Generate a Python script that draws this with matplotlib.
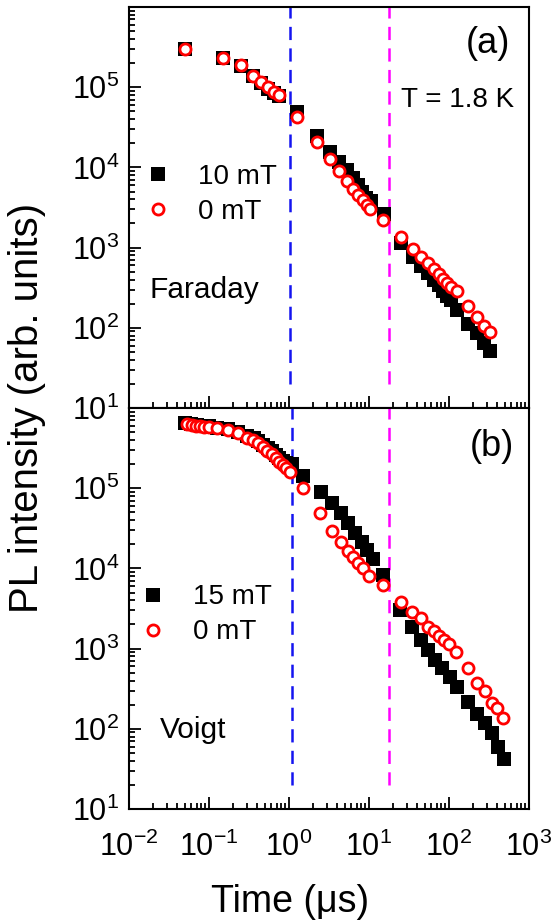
import matplotlib
matplotlib.use("Agg")
import matplotlib.pyplot as plt
from matplotlib.ticker import FixedLocator, FuncFormatter, LogLocator, NullFormatter
import numpy as np

plt.rcParams['font.family'] = ['Liberation Sans', 'DejaVu Sans']
plt.rcParams['mathtext.fontset'] = 'custom'
plt.rcParams['mathtext.rm'] = 'Liberation Sans'
plt.rcParams['mathtext.it'] = 'Liberation Sans:italic'
plt.rcParams['lines.scale_dashes'] = False

# ---------------- data: panel (a) Faraday ----------------
a_sq_t = [0.05, 0.15, 0.25, 0.35, 0.45, 0.55, 0.65, 0.75, 1.25,
          2.25, 3.25, 4.25, 5.25, 6.25, 7.25, 8.25, 9.25, 10.5, 15.5,
          25, 35, 45, 55, 65, 75, 85, 95, 105, 125, 175, 225, 275, 325]
a_sq_I = [2.99e5, 2.29e5, 1.85e5, 1.37e5, 1.13e5, 9.6e4, 8.4e4, 7.7e4, 4.9e4,
          2.45e4, 1.56e4, 1.17e4, 9.3e3, 7.4e3, 6.0e3, 4.9e3, 4.2e3, 3.8e3, 2.63e3,
          1130, 760, 590, 480, 400, 340, 290, 250, 220, 165, 110, 85, 65, 52]
a_ci_t = [0.05, 0.15, 0.25, 0.35, 0.45, 0.55, 0.65, 0.75, 1.25,
          2.25, 3.25, 4.25, 5.25, 6.25, 7.35, 8.5, 9.5, 10.3, 14.8,
          25, 35, 45, 55, 65, 75, 85, 95, 105, 125, 175, 225, 275, 325]
a_ci_I = [2.99e5, 2.29e5, 1.89e5, 1.39e5, 1.17e5, 1.0e5, 8.7e4, 7.9e4, 4.3e4,
          2.09e4, 1.26e4, 9.0e3, 6.8e3, 5.33e3, 4.53e3, 3.92e3, 3.40e3, 3.0e3, 2.21e3,
          1340, 953, 757, 649, 537, 469, 403, 359, 326, 290, 189, 138, 105, 88]

# ---------------- data: panel (b) Voigt ----------------
b_sq_t = [0.05, 0.06, 0.07, 0.08, 0.09, 0.1, 0.125, 0.175, 0.23, 0.3, 0.36, 0.41,
          0.48, 0.54, 0.61, 0.68, 0.76, 0.84, 0.92, 1.08,
          1.48, 2.51, 3.48, 4.47, 5.51, 6.68, 8.11, 9.52, 11.3, 15.1,
          24.4, 34.2, 44.3, 55.1, 66.8, 81.1, 103, 127, 174, 222, 282, 342, 413, 487]
b_sq_I = [6.45e5, 6.3e5, 6.15e5, 6.05e5, 5.95e5, 5.9e5, 5.7e5, 5.45e5, 5.0e5, 4.5e5, 4.2e5, 3.85e5,
          3.5e5, 3.15e5, 2.9e5, 2.6e5, 2.38e5, 2.2e5, 2.05e5, 2.0e5,
          1.42e5, 9.0e4, 6.5e4, 4.87e4, 3.65e4, 2.79e4, 2.15e4, 1.69e4, 1.30e4, 8.3e3,
          3030, 1870, 1280, 961, 721, 568, 446, 329, 218, 153, 117, 88, 60, 41.7]
b_ci_t = [0.0535, 0.0608, 0.0688, 0.0772, 0.0873, 0.101, 0.125, 0.174, 0.232, 0.296,
          0.358, 0.413, 0.477, 0.535, 0.608, 0.682, 0.756, 0.834, 0.917, 1.03,
          1.48, 2.44, 3.48, 4.47, 5.51, 6.37, 7.35, 8.49, 10.1, 14.8,
          24.9, 34.8, 44.3, 55.1, 64.9, 75.6, 86.6, 101, 122, 174, 222, 282, 342, 402, 469]
b_ci_I = [6.27e5, 6.14e5, 6.02e5, 5.96e5, 5.85e5, 5.80e5, 5.58e5, 5.32e5, 4.83e5, 4.26e5,
          3.99e5, 3.63e5, 3.29e5, 2.91e5, 2.65e5, 2.36e5, 2.14e5, 1.95e5, 1.77e5, 1.61e5,
          9.97e4, 4.86e4, 2.93e4, 2.15e4, 1.65e4, 1.37e4, 1.18e4, 1.0e4, 8.04e3, 6.21e3,
          3850, 2840, 2390, 1870, 1660, 1440, 1280, 1130, 915, 568, 376, 296, 208, 180, 137]

# vertical guide lines (time, μs)
vline_t_a = [1.03, 18.0]
vline_t_b = [1.09, 18.0]
vline_colors = ['#1414f0', '#ff00ff']
vline_span = [20, 1e6]

labels_a = ['10 mT', '0 mT']
labels_b = ['15 mT', '0 mT']

W, H = 555, 923
fig = plt.figure(figsize=(W / 100, H / 100), dpi=100)
L, R = 129, 529
ax1 = fig.add_axes([L / W, 1 - 408 / H, (R - L) / W, (408 - 7) / H])
ax2 = fig.add_axes([L / W, 1 - 809 / H, (R - L) / W, (809 - 408) / H])

sq_kw = dict(ls='none', marker='s', ms=9.5, mfc='black', mec='black', mew=0, zorder=3)
ci_kw = dict(ls='none', marker='o', ms=8.0, mfc='white', mec='#ff0000', mew=2.0, zorder=4)


def ytick_fmt(v, pos):
    e = int(round(np.log10(v)))
    if e >= 6:
        return ''
    return r'$\mathregular{10^{%d}}$' % e


def xtick_fmt(v, pos):
    e = int(round(np.log10(v)))
    return r'$\mathregular{10^{%d}}$' % e


panels = [
    (ax1, a_sq_t, a_sq_I, a_ci_t, a_ci_I, vline_t_a, labels_a),
    (ax2, b_sq_t, b_sq_I, b_ci_t, b_ci_I, vline_t_b, labels_b),
]
for ax, st, sI, ct, cI, vl, labs in panels:
    ax.set_xscale('log')
    ax.set_yscale('log')
    ax.set_xlim(1e-2, 1e3)
    ax.set_ylim(1e1, 1e6)
    h1, = ax.plot(st, sI, label=labs[0], **sq_kw)
    h2, = ax.plot(ct, cI, label=labs[1], **ci_kw)
    for xv, c in zip(vl, vline_colors):
        ax.plot([xv, xv], vline_span, color=c, lw=1.8, dashes=[9.5, 6.0], zorder=2)
    for sp in ax.spines.values():
        sp.set_linewidth(1.5)
    ax.xaxis.set_major_locator(FixedLocator([1e-2, 1e-1, 1e0, 1e1, 1e2, 1e3]))
    ax.xaxis.set_minor_locator(LogLocator(base=10, subs=np.arange(2, 10), numticks=20))
    ax.yaxis.set_major_locator(FixedLocator([1e1, 1e2, 1e3, 1e4, 1e5, 1e6]))
    ax.yaxis.set_minor_locator(LogLocator(base=10, subs=np.arange(2, 10), numticks=20))
    ax.yaxis.set_major_formatter(FuncFormatter(ytick_fmt))
    ax.yaxis.set_minor_formatter(NullFormatter())
    ax.xaxis.set_minor_formatter(NullFormatter())
    ax.tick_params(which='both', direction='in', top=False, right=False, width=1.3, labelsize=22)
    ax.tick_params(which='major', length=8.5, pad=7)
    ax.tick_params(which='minor', length=4.5)

ax1.tick_params(axis='x', labelbottom=False)
ax2.xaxis.set_major_formatter(FuncFormatter(xtick_fmt))
ax2.tick_params(axis='x', pad=16)

leg_kw = dict(frameon=False, fontsize=20, handlelength=1.0, handletextpad=0.95,
              labelspacing=0.32, borderpad=0, borderaxespad=0, numpoints=1, loc='upper left')
ax1.legend(bbox_to_anchor=(0.037, 0.608), **leg_kw)
ax2.legend(bbox_to_anchor=(0.025, 0.56), **leg_kw)

ax1.text(0.8975, 0.91, '(a)', transform=ax1.transAxes, fontsize=26, ha='center', va='center')
ax1.text(0.68, 0.768, 'T = 1.8 K', transform=ax1.transAxes, fontsize=20, ha='left', va='center')
ax1.text(0.0525, 0.294, 'Faraday', transform=ax1.transAxes, fontsize=21.5, ha='left', va='center')
ax2.text(0.9075, 0.903, '(b)', transform=ax2.transAxes, fontsize=26, ha='center', va='center')
ax2.text(0.0775, 0.197, 'Voigt', transform=ax2.transAxes, fontsize=21.5, ha='left', va='center')

fig.text(290 / W, 1 - 902 / H, 'Time (μs)', fontsize=27, ha='center', va='center')
fig.text(27 / W, 1 - 408 / H, 'PL intensity (arb. units)', fontsize=29, rotation=90,
         ha='center', va='center')

fig.savefig('out.png', dpi=100)
